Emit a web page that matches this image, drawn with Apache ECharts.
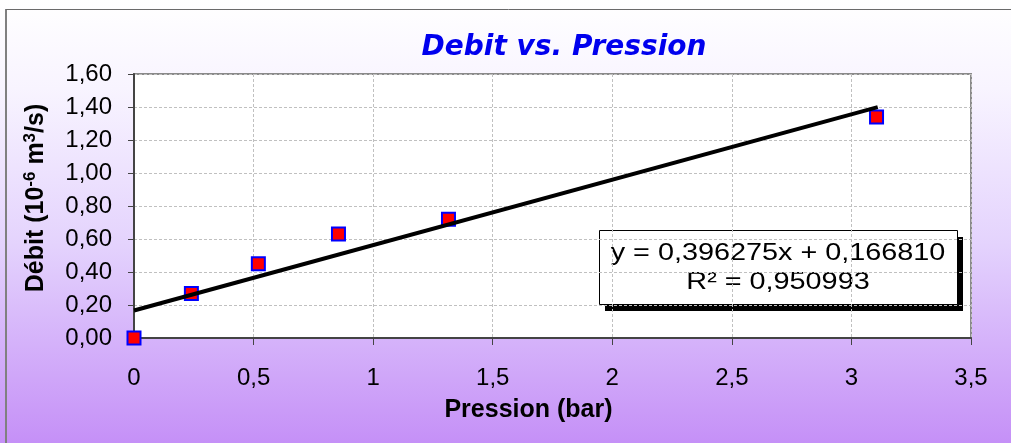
<!DOCTYPE html>
<html>
<head>
<meta charset="utf-8">
<script src="https://cdn.jsdelivr.net/npm/echarts@6/dist/echarts.min.js"></script>
<style>html,body{margin:0;padding:0;}#c{width:1011px;height:443px;}</style>
</head>
<body>
<div id="c"></div>
<script>
// Data
var pressionBar = [0, 0.24, 0.52, 0.855, 1.315, 3.105];
var debit = [0.00, 0.27, 0.45, 0.63, 0.72, 1.34];
var trendLine = [[0, 0.1668], [3.11, 1.399]];
var xTicks = [0, 0.5, 1, 1.5, 2, 2.5, 3, 3.5];
var yTicks = [0, 0.2, 0.4, 0.6, 0.8, 1.0, 1.2, 1.4, 1.6];
var titleText = 'Debit vs. Pression';
var equationText = 'y = 0,396275x + 0,166810';
var r2Text = 'R² = 0,950993';

var points = pressionBar.map(function (x, i) { return [x, debit[i]]; });
var chart = echarts.init(document.getElementById('c'));
var font = 'Liberation Sans, Arial, sans-serif';

chart.setOption({
  animation: false,
  backgroundColor: {
    type: 'linear', x: 0, y: 0, x2: 0, y2: 1,
    colorStops: [
      {offset: 0, color: '#ffffff'},
      {offset: 0.2, color: '#f8f4ff'},
      {offset: 0.55, color: '#e4d3fd'},
      {offset: 1, color: '#c590f7'}
    ]
  },
  title: {
    text: titleText,
    left: 559, top: 29, textAlign: 'center',
    textStyle: {fontFamily: 'DejaVu Sans', fontStyle: 'italic', fontWeight: 'bold', fontSize: 28, color: '#0000ee'}
  },
  grid: {
    left: 134, right: 40, top: 74, bottom: 105,
    show: true, backgroundColor: '#ffffff', borderColor: '#8a8a8a', borderWidth: 2
  },
  xAxis: {
    type: 'value', min: xTicks[0], max: xTicks[xTicks.length - 1], interval: 0.5,
    name: 'Pression (bar)', nameLocation: 'middle', nameGap: 60,
    nameTextStyle: {fontFamily: font, fontWeight: 'bold', fontSize: 25, color: '#000', padding: [0, 48, 0, 0]},
    axisLine: {show: true, lineStyle: {color: '#444', width: 2}},
    axisTick: {show: true, length: 7, lineStyle: {color: '#444', width: 1}},
    axisLabel: {margin: 28, fontFamily: font, fontSize: 24, color: '#000',
      formatter: function (v) { return String(v).replace('.', ','); }},
    splitLine: {show: true, lineStyle: {color: '#c0c0c0', type: [3, 2], width: 1}}
  },
  yAxis: {
    type: 'value', min: yTicks[0], max: yTicks[yTicks.length - 1], interval: 0.2,
    name: '{a|Débit (10}{s|-6}{a| m}{s|3}{a|/s)}', nameLocation: 'middle', nameGap: 84, nameRotate: 90,
    nameTextStyle: {
      padding: [0, 0, 0, 16],
      rich: {
        a: {fontFamily: font, fontWeight: 'bold', fontSize: 25, color: '#000', lineHeight: 28},
        s: {fontFamily: font, fontWeight: 'bold', fontSize: 17, color: '#000', lineHeight: 28, verticalAlign: 'top', padding: [0, 0, 12, 0]}
      }
    },
    axisLine: {show: true, lineStyle: {color: '#444', width: 2}},
    axisTick: {show: true, length: 6, lineStyle: {color: '#444', width: 1}},
    axisLabel: {margin: 22, fontFamily: font, fontSize: 24, color: '#000',
      formatter: function (v) { return v.toFixed(2).replace('.', ','); }},
    splitLine: {show: true, lineStyle: {color: '#c0c0c0', type: [3, 2], width: 1}}
  },
  series: [
    {
      type: 'scatter', data: points, symbol: 'rect', symbolSize: 13, z: 2,
      itemStyle: {color: '#ff0000', borderColor: '#0000ff', borderWidth: 2, opacity: 1}
    },
    {
      type: 'line', data: trendLine, symbol: 'none', z: 3, silent: true,
      lineStyle: {color: '#000', width: 4}
    }
  ],
  graphic: [
    {type: 'line', shape: {x1: 6, y1: 9, x2: 6, y2: 443}, style: {stroke: '#808080', lineWidth: 2}, z: 10},
    {type: 'line', shape: {x1: 6, y1: 9.5, x2: 1011, y2: 9.5}, style: {stroke: '#6a6a6a', lineWidth: 1}, z: 10},
    {
      type: 'group', left: 599, top: 230, z: 20,
      children: [
        {type: 'rect', shape: {x: 6, y: 7, width: 358, height: 74}, style: {fill: '#000'}},
        {type: 'rect', shape: {x: 0.5, y: 0.5, width: 358, height: 74},
          style: {fill: '#fff', stroke: '#000', lineWidth: 1}},
        {type: 'text', x: 179, y: 23, scaleX: 1.2,
          style: {text: equationText, font: '24px "Liberation Sans", Arial, sans-serif', fill: '#000', textAlign: 'center', textVerticalAlign: 'middle'}},
        {type: 'text', x: 179, y: 52, scaleX: 1.2,
          style: {text: r2Text, font: '24px "Liberation Sans", Arial, sans-serif', fill: '#000', textAlign: 'center', textVerticalAlign: 'middle'}}
      ]
    }
  ]
});
</script>
</body>
</html>
